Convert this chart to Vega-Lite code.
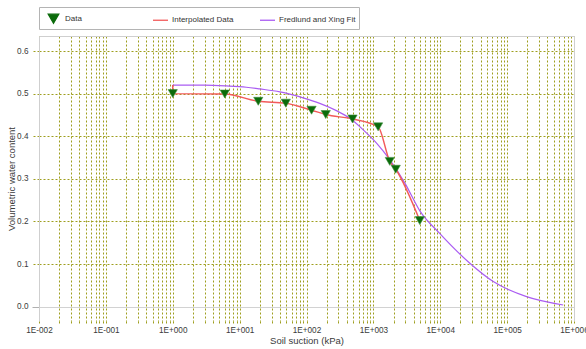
{
  "$schema": "https://vega.github.io/schema/vega-lite/v6.json",
  "width": 535,
  "height": 285,
  "autosize": "none",
  "padding": {"left": 39, "top": 36, "right": 12, "bottom": 28},
  "background": "white",
  "config": {"font": "Liberation Sans", "view": {"stroke": null}},
  "datasets": {
    "points": [
      {"suction": 1, "theta": 0.5, "series": "Data"},
      {"suction": 6, "theta": 0.499, "series": "Data"},
      {"suction": 19, "theta": 0.482, "series": "Data"},
      {"suction": 49, "theta": 0.4775, "series": "Data"},
      {"suction": 119, "theta": 0.461, "series": "Data"},
      {"suction": 194, "theta": 0.451, "series": "Data"},
      {"suction": 488, "theta": 0.4405, "series": "Data"},
      {"suction": 1178, "theta": 0.422, "series": "Data"},
      {"suction": 1760, "theta": 0.341, "series": "Data"},
      {"suction": 2160, "theta": 0.3225, "series": "Data"},
      {"suction": 4950, "theta": 0.202, "series": "Data"}
    ],
    "interp": [
      {"i": 0, "suction": 1, "theta": 0.52, "series": "Interpolated Data"},
      {"i": 1, "suction": 1, "theta": 0.5, "series": "Interpolated Data"},
      {"i": 2, "suction": 6, "theta": 0.499, "series": "Interpolated Data"},
      {"i": 3, "suction": 19, "theta": 0.482, "series": "Interpolated Data"},
      {"i": 4, "suction": 49, "theta": 0.4775, "series": "Interpolated Data"},
      {"i": 5, "suction": 119, "theta": 0.461, "series": "Interpolated Data"},
      {"i": 6, "suction": 194, "theta": 0.451, "series": "Interpolated Data"},
      {"i": 7, "suction": 488, "theta": 0.4405, "series": "Interpolated Data"},
      {"i": 8, "suction": 1178, "theta": 0.422, "series": "Interpolated Data"},
      {"i": 9, "suction": 1760, "theta": 0.341, "series": "Interpolated Data"},
      {"i": 10, "suction": 2160, "theta": 0.3225, "series": "Interpolated Data"},
      {"i": 11, "suction": 4950, "theta": 0.202, "series": "Interpolated Data"}
    ],
    "fit": [
      {"suction": 1, "theta": 0.52, "series": "Fredlund and Xing Fit"},
      {"suction": 3, "theta": 0.5198, "series": "Fredlund and Xing Fit"},
      {"suction": 6.3, "theta": 0.518, "series": "Fredlund and Xing Fit"},
      {"suction": 12.6, "theta": 0.515, "series": "Fredlund and Xing Fit"},
      {"suction": 20, "theta": 0.511, "series": "Fredlund and Xing Fit"},
      {"suction": 40, "theta": 0.504, "series": "Fredlund and Xing Fit"},
      {"suction": 89, "theta": 0.49, "series": "Fredlund and Xing Fit"},
      {"suction": 158, "theta": 0.477, "series": "Fredlund and Xing Fit"},
      {"suction": 280, "theta": 0.46, "series": "Fredlund and Xing Fit"},
      {"suction": 445, "theta": 0.442, "series": "Fredlund and Xing Fit"},
      {"suction": 705, "theta": 0.415, "series": "Fredlund and Xing Fit"},
      {"suction": 1115, "theta": 0.384, "series": "Fredlund and Xing Fit"},
      {"suction": 1760, "theta": 0.345, "series": "Fredlund and Xing Fit"},
      {"suction": 2960, "theta": 0.29, "series": "Fredlund and Xing Fit"},
      {"suction": 4950, "theta": 0.225, "series": "Fredlund and Xing Fit"},
      {"suction": 9800, "theta": 0.172, "series": "Fredlund and Xing Fit"},
      {"suction": 27700, "theta": 0.102, "series": "Fredlund and Xing Fit"},
      {"suction": 62000, "theta": 0.059, "series": "Fredlund and Xing Fit"},
      {"suction": 195000, "theta": 0.0235, "series": "Fredlund and Xing Fit"},
      {"suction": 690000, "theta": 0.004, "series": "Fredlund and Xing Fit"}
    ]
  },
  "resolve": {"axis": {"x": "independent", "y": "independent"}},
  "layer": [
    {
      "data": {"name": "fit"},
      "mark": {"type": "line", "interpolate": "monotone", "strokeWidth": 1.2},
      "encoding": {
        "x": {
          "field": "suction", "type": "quantitative",
          "scale": {"type": "log", "domain": [0.01, 1000000], "nice": false},
          "axis": {
            "orient": "bottom",
            "title": "Soil suction (kPa)",
            "values": [0.01,0.02,0.03,0.04,0.05,0.06,0.07,0.08,0.09,0.1,0.2,0.3,0.4,0.5,0.6,0.7,0.8,0.9,1,2,3,4,5,6,7,8,9,10,20,30,40,50,60,70,80,90,100,200,300,400,500,600,700,800,900,1000,2000,3000,4000,5000,6000,7000,8000,9000,10000,20000,30000,40000,50000,60000,70000,80000,90000,100000,200000,300000,400000,500000,600000,700000,800000,900000,1000000],
            "labelExpr": "abs(log(datum.value)/LN10 - round(log(datum.value)/LN10)) < 0.000001 ? '1E' + (datum.value < 1 ? '-' : '+') + pad(toString(abs(round(log(datum.value)/LN10))), 3, '0', 'left') : ''",
            "labelOverlap": false,
            "labelFlush": false,
            "labelBound": false,
            "labelFontSize": 8.2,
            "labelColor": "#3a3a3a",
            "labelPadding": 1,
            "domain": false,
            "grid": true,
            "gridColor": "#9e9e1e",
            "gridDash": [2, 2],
            "gridWidth": 1,
            "ticks": true,
            "tickSize": 4,
            "tickColor": "#9e9e1e",
            "tickDash": [2, 2],
            "titleFontSize": 9.5,
            "titleFontWeight": "normal",
            "titleColor": "#3a3a3a",
            "titleY": 14,
            "titleBaseline": "top"
          }
        },
        "y": {
          "field": "theta", "type": "quantitative",
          "scale": {"domain": [-0.0336, 0.6352], "nice": false, "zero": false},
          "axis": {
            "orient": "left",
            "title": "Volumetric water content",
            "values": [0, 0.1, 0.2, 0.3, 0.4, 0.5, 0.6],
            "format": ".1f",
            "labelFontSize": 8.2,
            "labelColor": "#3a3a3a",
            "labelPadding": 4,
            "domain": true,
            "domainColor": "#cfcfcf",
            "grid": true,
            "gridColor": {"condition": {"test": "datum.value === 0", "value": "#d2d2d2"}, "value": "#9e9e1e"},
            "gridDash": {"condition": {"test": "datum.value === 0", "value": []}, "value": [2, 2]},
            "tickSize": 7,
            "tickColor": {"condition": {"test": "datum.value === 0", "value": "#b0b0b0"}, "value": "#9e9e1e"},
            "tickDash": {"condition": {"test": "datum.value === 0", "value": []}, "value": [2, 2]},
            "titleFontSize": 9.5,
            "titleFontWeight": "normal",
            "titleColor": "#3a3a3a",
            "titleX": -27.5,
            "titleBaseline": "middle",
            "titleAngle": 270
          }
        },
        "color": {
          "field": "series", "type": "nominal",
          "scale": {"domain": ["Data", "Interpolated Data", "Fredlund and Xing Fit"], "range": ["#0b6b0b", "#f25a5a", "#aa5cf2"]},
          "legend": {
            "title": null,
            "orient": "none",
            "legendX": 0,
            "legendY": -29,
            "direction": "horizontal",
            "columns": 3,
            "gridAlign": "all",
            "columnPadding": 7,
            "padding": 3,
            "symbolOffset": 3,
            "strokeColor": "#b4b4b4",
            "fillColor": "white",
            "symbolSize": 225,
            "labelOffset": 3,
            "labelFontSize": 8,
            "labelColor": "#333333",
            "encode": {
              "symbols": {
                "update": {
                  "shape": {"signal": "datum.value === 'Data' ? 'triangle-down' : 'stroke'"},
                  "size": {"signal": "datum.value === 'Data' ? 110 : 225"},
                  "fill": {"signal": "datum.value === 'Data' ? '#0b6b0b' : 'transparent'"},
                  "stroke": {"signal": "datum.value === 'Data' ? '#0b6b0b' : (datum.value === 'Interpolated Data' ? '#f25a5a' : '#aa5cf2')"},
                  "strokeWidth": {"value": 1.3},
                  "opacity": {"value": 1}
                }
              }
            }
          }
        }
      }
    },
    {
      "data": {"name": "interp"},
      "mark": {"type": "line", "interpolate": "monotone", "strokeWidth": 1.4},
      "encoding": {
        "x": {"field": "suction", "type": "quantitative", "axis": {"orient": "top", "title": null, "labels": false, "ticks": false, "grid": false, "domain": true, "domainColor": "#cfcfcf"}},
        "y": {"field": "theta", "type": "quantitative", "axis": {"orient": "right", "title": null, "labels": false, "ticks": false, "grid": false, "domain": true, "domainColor": "#cfcfcf"}},
        "order": {"field": "i"},
        "color": {"field": "series", "type": "nominal"}
      }
    },
    {
      "data": {"name": "points"},
      "mark": {"type": "point", "shape": "triangle-down", "filled": true, "size": 85, "opacity": 1, "stroke": "#3d8f3d", "strokeWidth": 0.6},
      "encoding": {
        "x": {"field": "suction", "type": "quantitative", "axis": null},
        "y": {"field": "theta", "type": "quantitative", "axis": null},
        "color": {"field": "series", "type": "nominal"}
      }
    }
  ]
}
